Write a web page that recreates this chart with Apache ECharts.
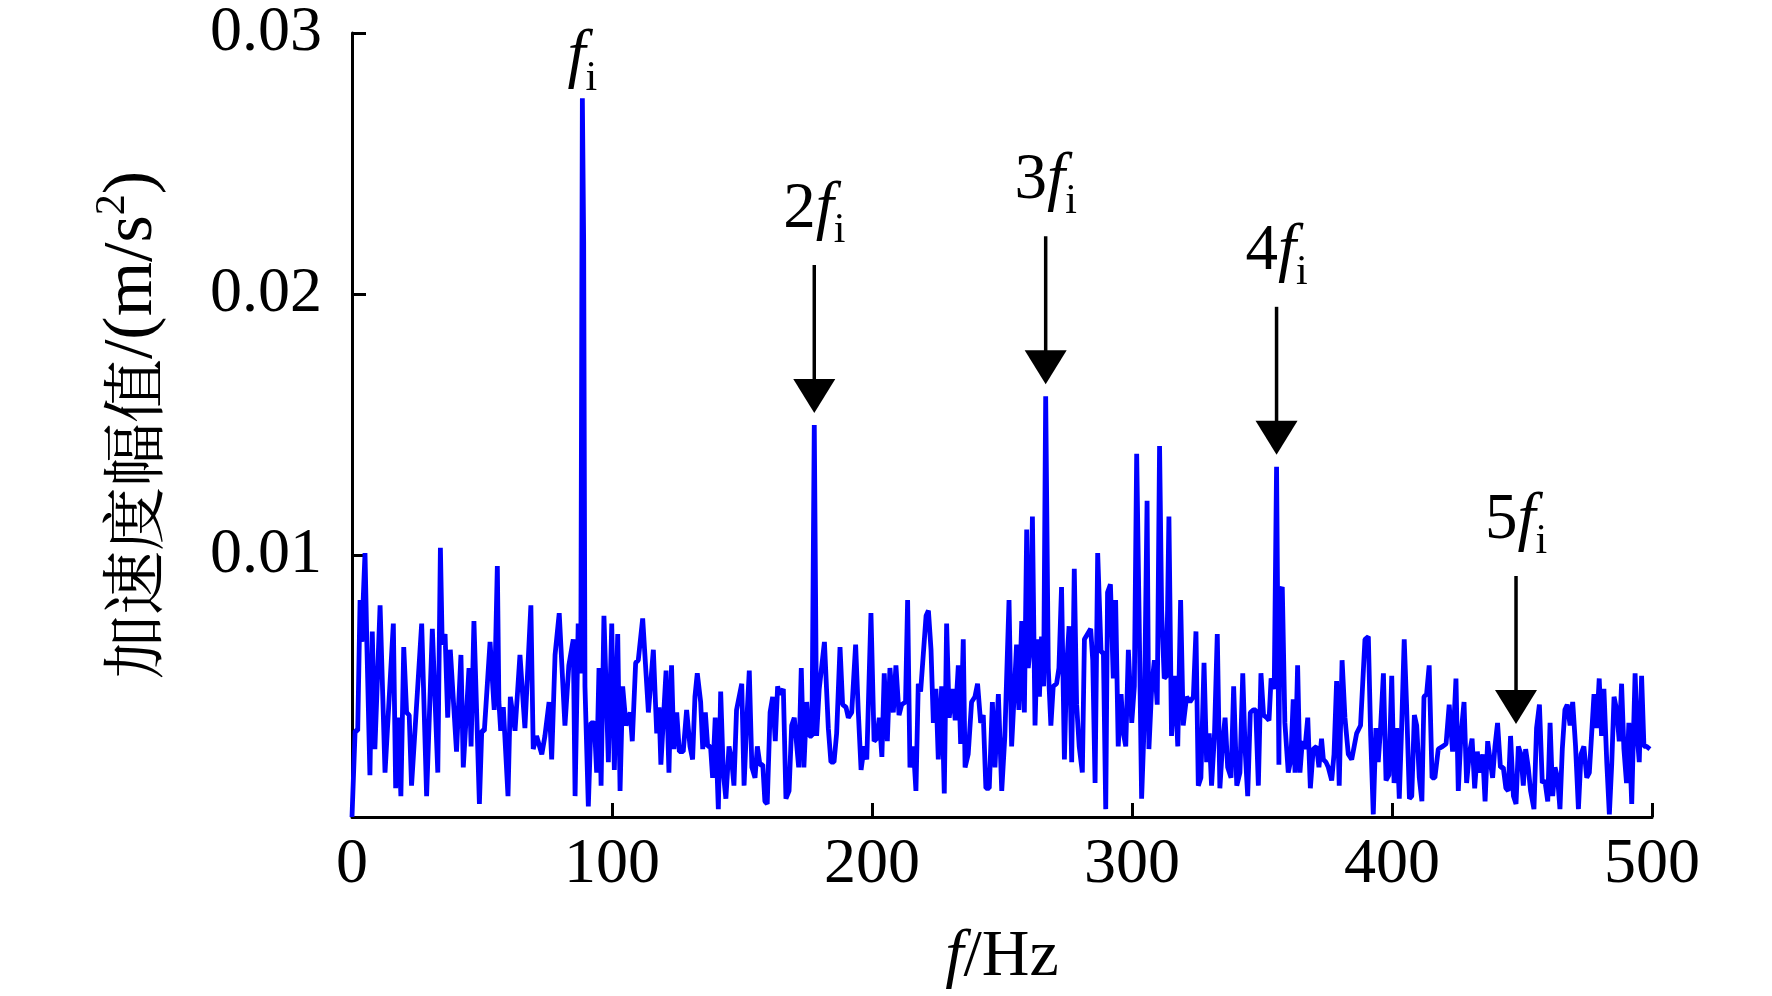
<!DOCTYPE html>
<html>
<head>
<meta charset="utf-8">
<script src="https://cdn.jsdelivr.net/npm/echarts@6/dist/echarts.min.js"></script>
<style>
html,body{margin:0;padding:0;background:#fff;}
#chart{width:1772px;height:996px;}
</style>
</head>
<body>
<div id="chart"></div>
<script>
// Frequency (Hz) of each spectrum point
const freqHz = [
0,1.2,2.2,3.1,3.8,4.3,5.0,5.7,6.9,7.8,8.8,10.8,12.7,15.9,16.8,17.8,18.8,19.9,21.0,22.0,22.9,26.8,28.7,30.9,33.0,34.0,34.7,35.8,36.8,37.8,
40.2,41.9,42.8,45.0,45.8,46.9,49.0,49.9,50.9,53.1,54.7,55.9,56.5,57.2,58.2,60.0,60.9,62.7,64.6,66.5,68.8,69.7,71.0,73.0,74.2,75.8,76.8,78.1,79.7,
81.9,83.4,85.1,85.8,87.0,88.0,88.6,89.1,89.6,90.9,91.9,93.2,94.1,95.0,95.8,96.9,98.6,99.9,100.9,102.2,103.1,104.1,105.4,107.0,107.8,109.1,110.1,
111.8,114.0,115.9,117.2,118.1,118.8,120.8,121.9,122.9,123.8,124.9,125.9,127.4,128.7,130.0,131.0,131.9,132.8,134.1,134.9,135.9,136.8,137.9,138.7,
139.7,140.9,141.8,142.8,143.8,145.0,146.0,146.9,147.9,149.9,150.8,151.8,152.8,153.8,155.0,155.9,156.9,158.0,158.8,159.7,160.8,161.8,162.8,163.7,
164.6,165.9,166.9,168.1,169.1,170.1,171.8,172.8,173.8,174.9,175.9,176.9,177.8,178.7,179.7,181.7,183.2,184.2,185.4,186.4,187.7,188.7,190.0,190.9,
192.2,193.7,194.7,195.8,197.0,198.0,199.6,200.8,201.8,202.8,203.8,204.7,205.9,206.9,208.2,209.2,210.4,211.4,212.9,213.7,214.6,215.9,216.9,217.8,
218.7,220.8,221.7,222.7,223.6,224.6,225.5,226.8,227.8,228.7,229.7,231.0,232.0,233.2,234.1,235.1,235.8,237.0,238.3,239.6,240.6,241.8,242.8,243.8,
245.1,246.3,247.3,248.6,249.9,251.1,252.7,253.7,254.7,255.6,256.5,257.6,258.6,259.5,260.1,260.9,261.7,262.7,263.6,264.4,265.2,266.0,266.8,267.8,
268.8,269.7,271.0,271.9,272.9,274.0,274.9,275.8,276.8,277.8,278.7,279.7,280.9,281.7,282.9,284.1,284.9,285.8,286.8,288.1,289.0,289.9,290.6,291.7,
292.8,293.7,294.7,295.8,296.7,297.6,298.6,299.9,300.9,301.8,302.7,303.7,304.7,305.8,306.5,307.6,308.6,309.7,310.6,311.4,312.4,313.3,314.2,315.2,
316.5,317.6,318.7,319.7,321.0,322.3,323.6,324.6,325.5,326.5,327.7,328.7,329.7,330.6,331.7,332.8,333.8,334.9,335.8,336.8,338.1,339.1,340.3,341.5,
342.6,343.5,344.5,345.5,346.7,347.6,348.6,349.6,350.6,351.8,352.7,353.5,354.7,355.6,356.5,356.9,357.8,358.8,360.1,361.1,362.0,362.7,363.7,364.6,
365.5,366.5,367.6,368.6,369.7,371.0,371.9,372.9,373.6,374.6,375.5,376.8,377.7,378.7,379.7,380.8,381.9,383.2,384.5,386.4,387.9,389.6,390.9,391.8,
392.8,393.8,394.7,395.6,396.7,397.7,398.8,399.9,400.8,401.8,402.8,403.7,404.7,405.6,406.7,407.6,408.6,409.5,410.5,411.5,412.3,413.3,414.3,415.4,
416.5,417.8,419.5,420.8,422.0,423.3,424.6,425.5,426.5,427.7,428.7,429.7,430.8,431.8,432.8,433.8,434.9,435.8,436.8,437.7,438.7,439.6,440.6,441.7,
442.8,443.8,444.7,445.6,446.7,447.7,448.6,449.6,450.5,451.4,452.4,453.3,454.6,455.6,456.7,457.8,458.8,459.9,460.8,461.8,462.7,463.7,464.6,465.5,
466.5,467.4,468.5,469.5,470.6,471.7,472.7,473.8,474.9,475.9,476.8,477.7,478.7,479.7,480.6,481.5,482.6,483.6,484.5,485.4,486.4,487.4,488.3,489.2,
490.2,491.1,492.2,492.8,493.5,494.4,495.1,496.0,496.9,497.9,499.2
];
// Acceleration amplitude, in units of 0.001 m/s^2
const ampMilli = [
0,3.3,3.3,8.3,6.7,8.3,10.1,6.7,1.6,7.1,2.6,8.1,1.7,7.4,1.1,3.8,0.8,6.5,4.0,3.9,1.2,7.4,0.8,7.2,1.7,10.3,6.6,7.0,3.8,6.4,
2.5,6.2,1.9,5.7,2.7,7.5,0.5,3.3,3.3,6.7,4.1,9.6,4.4,3.3,4.2,0.8,4.6,3.3,6.2,3.4,8.1,2.6,3.1,2.4,3.1,4.4,2.2,6.2,7.8,
3.5,5.8,6.8,0.8,7.4,5.5,27.5,22.0,5.0,0.4,3.6,3.6,1.7,5.7,1.2,7.7,2.1,7.4,1.8,7.0,1.0,5.0,3.5,4.0,2.9,5.9,6.0,
7.6,4.0,6.4,3.2,4.2,2.0,5.6,1.7,5.8,2.6,4.0,2.5,2.5,4.1,2.7,2.2,4.6,5.5,4.4,2.6,4.0,2.7,2.7,1.5,
3.8,0.3,4.8,1.7,0.7,2.7,2.2,1.2,4.1,5.1,1.2,3.6,5.6,1.9,1.5,2.7,2.0,2.0,0.6,0.5,4.0,4.6,2.9,5.0,
4.7,4.9,0.7,1.0,3.5,3.8,1.9,5.7,1.9,4.4,3.1,3.1,15.0,3.1,4.9,6.7,3.4,2.1,2.1,3.2,6.5,4.3,4.2,3.8,
4.0,6.6,4.1,1.8,2.7,2.2,7.8,2.9,3.0,3.8,2.3,5.5,2.9,5.7,4.0,5.8,3.9,4.3,4.4,8.3,1.9,2.7,1.0,5.1,
4.8,7.7,7.9,6.4,3.6,4.9,2.2,5.0,0.9,7.4,3.8,4.9,3.7,5.8,2.8,6.8,1.9,2.4,4.4,4.6,5.1,3.6,3.9,1.1,
1.1,4.4,1.9,4.7,1.0,3.1,8.3,2.7,4.7,6.6,4.1,7.5,4.0,11.0,5.7,6.5,11.5,3.5,6.8,4.6,6.9,5.0,16.1,5.7,
3.5,5.0,5.1,5.7,8.8,2.2,5.8,7.3,2.1,9.5,4.3,2.7,1.7,6.8,7.0,7.2,6.0,1.3,10.1,6.3,6.3,0.3,8.6,8.9,
5.3,8.3,2.7,4.7,3.2,2.7,6.4,3.6,5.0,13.9,7.9,0.7,3.6,12.1,2.6,5.0,6.0,4.3,14.2,7.9,5.3,5.4,11.5,3.1,
5.4,2.7,8.3,3.5,4.6,4.4,4.6,7.1,1.2,1.5,5.9,2.1,3.2,1.2,3.1,7.0,1.1,2.9,3.8,1.9,1.5,5.0,1.2,1.7,
5.5,2.6,0.8,4.0,4.1,4.1,1.2,5.5,3.9,3.8,3.7,5.3,4.9,13.4,2.0,8.6,8.8,3.6,1.7,2.2,4.5,1.7,5.8,1.7,
2.9,2.6,3.8,1.1,2.6,2.7,1.9,3.0,2.2,2.1,1.9,1.4,2.4,5.2,1.2,6.0,3.8,2.4,2.2,3.2,3.5,6.8,6.9,3.1,
0.1,3.4,2.1,3.4,5.5,1.4,1.6,5.4,1.3,3.4,0.7,3.4,6.8,4.3,0.7,0.8,3.9,3.5,1.5,0.6,4.6,4.7,5.8,1.5,
1.5,2.6,2.7,2.8,4.3,2.5,5.3,1.0,3.1,4.4,1.3,2.4,3.0,1.1,2.5,1.7,2.4,0.6,2.9,2.2,1.5,2.7,3.6,1.9,
1.9,1.1,1.0,3.1,0.8,0.5,2.7,2.4,1.2,2.6,1.9,1.0,0.3,3.4,4.3,1.3,1.4,0.6,3.6,0.8,1.9,1.5,0.3,2.6,
4.1,4.3,3.5,4.4,2.7,0.3,2.4,2.7,1.5,1.7,3.2,4.7,3.4,5.3,3.1,4.9,2.1,0.1,2.0,4.6,4.1,2.9,5.1,2.6,
1.3,3.6,0.5,2.9,5.5,3.0,2.1,5.4,2.7,2.7,2.6
];
// Harmonic annotations
const harmPrefix = ['', '2', '3', '4', '5'];
const harmFreq = [88.6, 177.8, 266.8, 355.6, 447.7];
const harmPeakMilli = [27.5, 15.0, 16.1, 13.4, 3.1];
const harmArrow = [false, true, true, true, true];
// Axis
const xTicks = [0, 100, 200, 300, 400, 500];
const yTicks = [0.01, 0.02, 0.03];

const SERIF = '"Liberation Serif","Times New Roman","Noto Serif CJK SC","Noto Sans CJK SC",serif';
const CJK = '"Noto Serif CJK SC","Noto Sans CJK SC",serif';
const series = freqHz.map((f, i) => [f, ampMilli[i] / 1000]);
const harmData = harmFreq.map((f, i) => [f, harmPeakMilli[i] / 1000]);

const chart = echarts.init(document.getElementById('chart'), null, {renderer: 'canvas'});
const option = {
  animation: false,
  backgroundColor: '#ffffff',
  grid: {left: 352, right: 120, top: 33, bottom: 174, containLabel: false},
  xAxis: {
    type: 'value', min: 0, max: 500, interval: 100,
    name: '{i|f}{r|/Hz}', nameLocation: 'middle', nameGap: 108,
    nameTextStyle: {rich: {
      i: {fontFamily: SERIF, fontStyle: 'italic', fontSize: 66, color: '#000'},
      r: {fontFamily: SERIF, fontSize: 66, color: '#000'}
    }},
    axisLine: {show: true, lineStyle: {color: '#000', width: 3}},
    axisTick: {show: true, inside: true, length: 14, lineStyle: {color: '#000', width: 3}},
    splitLine: {show: false},
    axisLabel: {fontFamily: SERIF, fontSize: 64, color: '#000', margin: 16,
      formatter: v => xTicks.indexOf(v) >= 0 ? String(v) : ''}
  },
  yAxis: {
    type: 'value', min: 0, max: 0.03, interval: 0.01,
    name: '{c|加速度幅值}{l|/(m/s}{p|2}{l|)}', nameLocation: 'middle', nameGap: 186, nameRotate: 90,
    nameTextStyle: {rich: {
      c: {fontFamily: CJK, fontSize: 64, color: '#000', verticalAlign: 'bottom', height: 66, lineHeight: 66},
      l: {fontFamily: SERIF, fontSize: 70, color: '#000', verticalAlign: 'bottom', height: 66, lineHeight: 66},
      p: {fontFamily: SERIF, fontSize: 42, color: '#000', verticalAlign: 'top', height: 26}
    }},
    axisLine: {show: true, lineStyle: {color: '#000', width: 3}},
    axisTick: {show: true, inside: true, length: 14, lineStyle: {color: '#000', width: 3}},
    splitLine: {show: false},
    axisLabel: {fontFamily: SERIF, fontSize: 64, color: '#000', margin: 30,
      formatter: v => {
        for (const t of yTicks) { if (Math.abs(v - t) < 1e-9) return t.toFixed(2); }
        return '';
      }}
  },
  series: [
    {
      type: 'line', data: series, showSymbol: false, symbol: 'none',
      lineStyle: {color: '#0000ff', width: 4.8}, itemStyle: {color: '#0000ff'},
      clip: false, z: 2
    },
    {
      type: 'custom', data: harmData, clip: false, z: 5,
      renderItem: (params, api) => {
        const i = params.dataIndex;
        const p = api.coord([api.value(0), api.value(1)]);
        const x = p[0];
        const children = [];
        let labelY;
        if (harmArrow[i]) {
          const tip = p[1] - 12;
          const headH = 34, headW = 42;
          const top = tip - 148;
          children.push({type: 'line', shape: {x1: x, y1: top, x2: x, y2: tip - headH + 2},
            style: {stroke: '#000', lineWidth: 3.5}});
          children.push({type: 'polygon', shape: {points: [[x - headW / 2, tip - headH], [x + headW / 2, tip - headH], [x, tip]]},
            style: {fill: '#000'}});
          labelY = top - 55;
        } else {
          labelY = p[1] - 40;
        }
        const pre = harmPrefix[i] ? '{n|' + harmPrefix[i] + '}' : '';
        children.push({type: 'text', x: x, y: labelY, style: {
          text: pre + '{f|f}{s|i}', align: 'center', verticalAlign: 'middle',
          rich: {
            n: {fontFamily: SERIF, fontSize: 65, color: '#000', verticalAlign: 'top', height: 64, lineHeight: 64},
            f: {fontFamily: SERIF, fontStyle: 'italic', fontSize: 65, color: '#000', verticalAlign: 'top', height: 64, lineHeight: 64},
            s: {fontFamily: SERIF, fontSize: 42, color: '#000', verticalAlign: 'bottom', height: 22}
          }
        }});
        return {type: 'group', children: children};
      }
    }
  ]
};
chart.setOption(option);
</script>
</body>
</html>
